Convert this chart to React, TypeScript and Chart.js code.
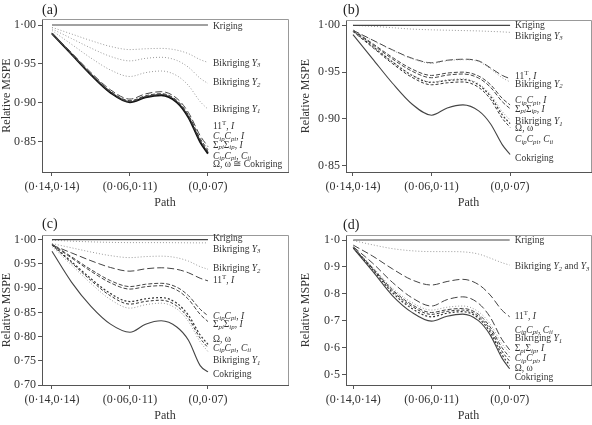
import React, { useEffect, useRef } from 'react';
import { Chart, registerables } from 'chart.js';
Chart.register(...registerables);

const SERIF = '"Liberation Serif", "Times New Roman", serif';
Chart.defaults.font.family = SERIF;

// ---------- shared axis data ----------
const pathX = [0, 0.25, 0.5, 0.75, 1, 1.2, 1.4, 1.6, 1.75, 1.9, 2];
const pathTickValues = [0, 1, 2];
const pathTickLabels = ['(0·14,0·14)', '(0·06,0·11)', '(0,0·07)'];

// ---------- panel (a) ----------
const aKriging = [1, 1, 1, 1, 1, 1, 1, 1, 1, 1, 1];
const aBikY3 = [0.997, 0.9885, 0.98, 0.9725, 0.9685, 0.9695, 0.97, 0.9678, 0.9632, 0.9556, 0.952];
const aBikY2 = [0.995, 0.9827, 0.9704, 0.9597, 0.954, 0.9572, 0.9586, 0.9546, 0.9458, 0.9317, 0.925];
const aBikY1 = [0.993, 0.9753, 0.9576, 0.9423, 0.934, 0.9389, 0.941, 0.9351, 0.9224, 0.9018, 0.892];
const a11T = [0.99, 0.9645, 0.939, 0.9169, 0.905, 0.9117, 0.9145, 0.906, 0.8877, 0.8581, 0.844];
const aCCI = [0.989, 0.9632, 0.9374, 0.915, 0.903, 0.9093, 0.912, 0.9034, 0.8846, 0.8544, 0.84];
const aSigma = [0.989, 0.9629, 0.9368, 0.9142, 0.902, 0.9083, 0.911, 0.9022, 0.8833, 0.8526, 0.838];
const aCCC = [0.989, 0.9627, 0.9365, 0.9138, 0.9015, 0.9078, 0.9105, 0.9016, 0.8822, 0.8509, 0.836];
const aOmegaCok = [0.989, 0.9626, 0.9362, 0.9133, 0.901, 0.9073, 0.91, 0.901, 0.8815, 0.85, 0.835];
const aYTicks = [0.85, 0.9, 0.95, 1.0];
const aLabels = ['Kriging', 'Bikriging *Y*_{3}', 'Bikriging *Y*_{2}', 'Bikriging *Y*_{1}', '11^{T}, *I*',
  '*C*_{ip}*C*_{pi}, *I*', 'Σ_{pi}Σ_{ip}, *I*', '*C*_{ip}*C*_{pi}, *C*_{ii}', 'Ω, ω ≅ Cokriging'];
const aLabelY = [0.998, 0.951, 0.926, 0.892, 0.87, 0.857, 0.846, 0.832, 0.8205];

// ---------- panel (b) ----------
const bKriging = [1, 1, 1, 1, 1, 1, 1, 1, 1, 1, 1];
const bBikY3 = [1.0, 0.999, 0.9975, 0.996, 0.9952, 0.9948, 0.9944, 0.994, 0.9935, 0.993, 0.9925];
const b11T = [0.9947, 0.9843, 0.9739, 0.9649, 0.96, 0.9627, 0.9638, 0.962, 0.9545, 0.9465, 0.943];
const bBikY2 = [0.9945, 0.9838, 0.9734, 0.9644, 0.9595, 0.9622, 0.9633, 0.9612, 0.9535, 0.944, 0.9395];
const bCCI = [0.995, 0.9805, 0.9659, 0.9533, 0.9465, 0.949, 0.95, 0.9458, 0.9367, 0.922, 0.915];
const bSigma = [0.9945, 0.9794, 0.9642, 0.9511, 0.944, 0.9468, 0.948, 0.9436, 0.9339, 0.9184, 0.911];
const bBikY1 = [0.994, 0.9777, 0.9613, 0.9471, 0.9395, 0.9418, 0.9428, 0.9375, 0.9262, 0.9078, 0.899];
const bOmega = [0.994, 0.9775, 0.961, 0.9467, 0.939, 0.9411, 0.942, 0.9364, 0.9241, 0.9044, 0.895];
const bCCC = [0.9935, 0.9764, 0.9593, 0.9445, 0.9365, 0.9386, 0.9395, 0.9337, 0.9211, 0.9007, 0.891];
const bCok = [0.99, 0.9642, 0.9384, 0.916, 0.904, 0.9117, 0.915, 0.9086, 0.8949, 0.8726, 0.862];
const bYTicks = [0.85, 0.9, 0.95, 1.0];
const bLabels = ['Kriging', 'Bikriging *Y*_{3}', '11^{T}, *I*', 'Bikriging *Y*_{2}', '*C*_{ip}*C*_{pi}, *I*',
  'Σ_{pi}Σ_{ip}, *I*', 'Bikriging *Y*_{1}', 'Ω, ω', '*C*_{ip}*C*_{pi}, *C*_{ii}', 'Cokriging'];
const bLabelY = [0.9996, 0.9886, 0.9458, 0.937, 0.9194, 0.9106, 0.897, 0.89, 0.8775, 0.8575];

// ---------- panel (c) ----------
const cKriging = [1, 1, 1, 1, 1, 1, 1, 1, 1, 1, 1];
const cBikY3 = [0.999, 0.997, 0.9955, 0.9945, 0.994, 0.994, 0.994, 0.9938, 0.9936, 0.9935, 0.9935];
const cBikY2 = [0.992, 0.9833, 0.9746, 0.9671, 0.963, 0.9651, 0.966, 0.9628, 0.9557, 0.9444, 0.939];
const c11T = [0.989, 0.9728, 0.9566, 0.9426, 0.935, 0.9399, 0.942, 0.9388, 0.9317, 0.9204, 0.915];
const cCCI = [0.991, 0.9647, 0.9383, 0.9155, 0.9032, 0.908, 0.91, 0.902, 0.8845, 0.8564, 0.843];
const cSigma = [0.99, 0.9624, 0.9348, 0.9109, 0.898, 0.9029, 0.905, 0.8961, 0.8769, 0.8458, 0.831];
const cOmega = [0.99, 0.9547, 0.9194, 0.8888, 0.8723, 0.878, 0.8805, 0.8689, 0.8438, 0.8033, 0.784];
const cCCC = [0.989, 0.9524, 0.9158, 0.8841, 0.867, 0.8726, 0.875, 0.8632, 0.8378, 0.7966, 0.777];
const cBikY1 = [0.986, 0.9478, 0.9096, 0.8765, 0.8587, 0.8657, 0.869, 0.857, 0.8311, 0.7892, 0.769];
const cCok = [0.976, 0.9125, 0.8624, 0.8257, 0.809, 0.8255, 0.8325, 0.8198, 0.7924, 0.74, 0.727];
const cYTicks = [0.7, 0.75, 0.8, 0.85, 0.9, 0.95, 1.0];
const cLabels = ['Kriging', 'Bikriging *Y*_{3}', 'Bikriging *Y*_{2}', '11^{T}, *I*', '*C*_{ip}*C*_{pi}, *I*',
  'Σ_{pi}Σ_{ip}, *I*', 'Ω, ω', '*C*_{ip}*C*_{pi}, *C*_{ii}', 'Bikriging *Y*_{1}', 'Cokriging'];
const cLabelY = [1.002, 0.98, 0.94, 0.915, 0.842, 0.824, 0.793, 0.776, 0.75, 0.721];

// ---------- panel (d) ----------
const dKriging = [1, 1, 1, 1, 1, 1, 1, 1, 1, 1, 1];
const dBikY23 = [0.998, 0.982, 0.968, 0.96, 0.957, 0.957, 0.956, 0.948, 0.933, 0.916, 0.907];
const d11T = [0.981, 0.94, 0.893, 0.852, 0.833, 0.846, 0.854, 0.835, 0.796, 0.74, 0.715];
const dCCC = [0.975, 0.9134, 0.843, 0.7858, 0.755, 0.7788, 0.789, 0.7654, 0.7141, 0.6314, 0.592];
const dBikY1 = [0.973, 0.8984, 0.8216, 0.768, 0.74, 0.7505, 0.755, 0.734, 0.6885, 0.615, 0.58];
const dSigma = [0.973, 0.8956, 0.8157, 0.76, 0.731, 0.7415, 0.746, 0.7243, 0.6772, 0.6012, 0.565];
const dCCI = [0.972, 0.8926, 0.8108, 0.7538, 0.724, 0.7352, 0.74, 0.7172, 0.6678, 0.588, 0.55];
const dOmega = [0.972, 0.8898, 0.805, 0.7458, 0.715, 0.7283, 0.734, 0.7101, 0.6584, 0.5748, 0.535];
const dCok = [0.97, 0.8833, 0.7939, 0.7315, 0.699, 0.7172, 0.725, 0.7006, 0.6479, 0.5626, 0.522];
const dYTicks = [0.5, 0.6, 0.7, 0.8, 0.9, 1.0];
const dLabels = ['Kriging', 'Bikriging *Y*_{2} and *Y*_{3}', '11^{T}, *I*', '*C*_{ip}*C*_{pi}, *C*_{ii}',
  'Bikriging *Y*_{1}', 'Σ_{pi}Σ_{ip}, *I*', '*C*_{ip}*C*_{pi}, *I*', 'Ω, ω', 'Cokriging'];
const dLabelY = [1.0, 0.9, 0.7165, 0.6645, 0.6335, 0.5964, 0.5593, 0.5246, 0.4887];

// ---------- styles ----------
type Kind = 'krig' | 'bik' | 'long' | 'mid' | 'short' | 'tiny' | 'cok' | 'bold';
const STY: Record<Kind, { color: string; width: number; dash: number[] }> = {
  krig: { color: '#444', width: 1.2, dash: [] },
  bik: { color: '#999', width: 1, dash: [1, 2] },
  long: { color: '#444', width: 1, dash: [7, 3] },
  mid: { color: '#444', width: 1, dash: [4, 2] },
  short: { color: '#333', width: 1, dash: [3, 2] },
  tiny: { color: '#333', width: 1.2, dash: [2, 2] },
  cok: { color: '#444', width: 1.1, dash: [] },
  bold: { color: '#111', width: 2, dash: [] },
};

type Panel = {
  tag: string; w: number; h: number; left: number; top: number;
  area: { l: number; t: number; r: number; b: number };
  xMin: number; xMax: number; yMin: number; yMax: number; yTicks: number[]; dec: number;
  series: { v: number[]; k: Kind }[]; labels: string[]; labelY: number[];
  tagX: number; tagY: number; titlePad: number;
};

const panels: Panel[] = [
  {
    tag: '(a)', w: 296, h: 212, left: 0, top: 0, area: { l: 42, t: 19, r: 288, b: 172 },
    xMin: -0.128, xMax: 3.026, yMin: 0.8115, yMax: 1.0077, yTicks: aYTicks, dec: 2,
    series: [
      { v: aKriging, k: 'krig' }, { v: aBikY3, k: 'bik' }, { v: aBikY2, k: 'bik' }, { v: aBikY1, k: 'bik' },
      { v: a11T, k: 'long' }, { v: aCCI, k: 'mid' }, { v: aSigma, k: 'mid' }, { v: aCCC, k: 'short' },
      { v: aOmegaCok, k: 'bold' },
    ],
    labels: aLabels, labelY: aLabelY, tagX: 42, tagY: 10, titlePad: 0,
  },
  {
    tag: '(b)', w: 296, h: 212, left: 296, top: 0, area: { l: 50, t: 20, r: 295, b: 172 },
    xMin: -0.089, xMax: 3.03, yMin: 0.8433, yMax: 1.0057, yTicks: bYTicks, dec: 2,
    series: [
      { v: bKriging, k: 'krig' }, { v: bBikY3, k: 'bik' }, { v: bBikY2, k: 'bik' }, { v: b11T, k: 'long' },
      { v: bCCI, k: 'mid' }, { v: bSigma, k: 'mid' }, { v: bBikY1, k: 'bik' }, { v: bOmega, k: 'tiny' },
      { v: bCCC, k: 'short' }, { v: bCok, k: 'cok' },
    ],
    labels: bLabels, labelY: bLabelY, tagX: 47, tagY: 10, titlePad: 3,
  },
  {
    tag: '(c)', w: 296, h: 213, left: 0, top: 212, area: { l: 42, t: 23, r: 288, b: 173 },
    xMin: -0.128, xMax: 3.026, yMin: 0.7, yMax: 1.0097, yTicks: cYTicks, dec: 2,
    series: [
      { v: cKriging, k: 'krig' }, { v: cBikY3, k: 'bik' }, { v: cBikY2, k: 'bik' }, { v: c11T, k: 'long' },
      { v: cCCI, k: 'mid' }, { v: cSigma, k: 'mid' }, { v: cOmega, k: 'tiny' }, { v: cCCC, k: 'short' },
      { v: cBikY1, k: 'bik' }, { v: cCok, k: 'cok' },
    ],
    labels: cLabels, labelY: cLabelY, tagX: 42, tagY: 12, titlePad: 0,
  },
  {
    tag: '(d)', w: 296, h: 213, left: 296, top: 212, area: { l: 50, t: 23, r: 295, b: 173 },
    xMin: -0.093, xMax: 3.04, yMin: 0.4618, yMax: 1.0186, yTicks: dYTicks, dec: 1,
    series: [
      { v: dKriging, k: 'krig' }, { v: dBikY23, k: 'bik' }, { v: d11T, k: 'long' }, { v: dCCC, k: 'long' },
      { v: dBikY1, k: 'bik' }, { v: dSigma, k: 'mid' }, { v: dCCI, k: 'short' }, { v: dOmega, k: 'tiny' },
      { v: dCok, k: 'cok' },
    ],
    labels: dLabels, labelY: dLabelY, tagX: 47, tagY: 13, titlePad: 3,
  },
];

type Seg = { t: string; it: boolean; pos: 'n' | 'sub' | 'sup' };
function parseRich(s: string): Seg[] {
  const out: Seg[] = [];
  let it = false;
  let pos: 'n' | 'sub' | 'sup' = 'n';
  let buf = '';
  const flush = () => {
    if (buf) out.push({ t: buf, it: it || pos === 'sub', pos });
    buf = '';
  };
  for (let i = 0; i < s.length; i++) {
    const c = s[i];
    if (c === '*') { flush(); it = !it; }
    else if ((c === '_' || c === '^') && s[i + 1] === '{') { flush(); pos = c === '_' ? 'sub' : 'sup'; i++; }
    else if (c === '}' && pos !== 'n') { flush(); pos = 'n'; }
    else buf += c;
  }
  flush();
  return out;
}

function drawRich(ctx: CanvasRenderingContext2D, text: string, x: number, y: number, size: number) {
  let cx = x;
  for (const seg of parseRich(text)) {
    const fs = seg.pos === 'n' ? size : size * 0.72;
    ctx.font = `${seg.it ? 'italic ' : ''}${fs}px ${SERIF}`;
    const dy = seg.pos === 'sub' ? 2.3 : seg.pos === 'sup' ? -3.3 : 0;
    ctx.fillText(seg.t, cx, y + dy);
    cx += ctx.measureText(seg.t).width;
  }
}

const fmtTick = (v: number, dec: number) => v.toFixed(dec).replace('.', '·');

function makeConfig(p: Panel): any {
  const annot = {
    id: 'annot' + p.tag,
    afterDraw(chart: any) {
      const ctx = chart.ctx as CanvasRenderingContext2D;
      const ca = chart.chartArea;
      const xs = chart.scales.x;
      const ys = chart.scales.y;
      ctx.save();
      ctx.strokeStyle = '#999';
      ctx.lineWidth = 1;
      ctx.beginPath();
      ctx.moveTo(ca.left, ca.top + 0.5);
      ctx.lineTo(ca.right + 0.5, ca.top + 0.5);
      ctx.lineTo(ca.right + 0.5, ca.bottom);
      ctx.stroke();
      ctx.fillStyle = '#222';
      ctx.textBaseline = 'middle';
      ctx.textAlign = 'left';
      ctx.font = `14px ${SERIF}`;
      ctx.fillText(p.tag, p.tagX, p.tagY);
      ctx.fillStyle = '#333';
      const lx = xs.getPixelForValue(2) + 5;
      p.labels.forEach((lab, i) => {
        drawRich(ctx, lab, lx, ys.getPixelForValue(p.labelY[i]), 9.5);
      });
      ctx.restore();
    },
  };
  return {
    type: 'line',
    data: {
      datasets: p.series.map((s) => ({
        data: pathX.map((x, i) => ({ x, y: s.v[i] })),
        borderColor: STY[s.k].color,
        borderWidth: STY[s.k].width,
        borderDash: STY[s.k].dash,
        pointRadius: 0,
        fill: false,
        cubicInterpolationMode: 'monotone',
      })),
    },
    options: {
      animation: false,
      responsive: false,
      devicePixelRatio: 1,
      events: [],
      layout: { padding: { left: 0, top: p.area.t, right: p.w - p.area.r, bottom: 0 } },
      plugins: { legend: { display: false }, tooltip: { enabled: false }, title: { display: false } },
      scales: {
        x: {
          type: 'linear', min: p.xMin, max: p.xMax,
          afterFit: (s: any) => { s.height = p.h - p.area.b; },
          afterBuildTicks: (s: any) => { s.ticks = pathTickValues.map((v) => ({ value: v })); },
          ticks: {
            callback: (v: number) => { const i = pathTickValues.indexOf(v); return i >= 0 ? pathTickLabels[i] : ''; },
            font: { size: 12, family: SERIF }, color: '#333', padding: 4, maxRotation: 0, autoSkip: false,
          },
          grid: { drawOnChartArea: false, drawTicks: true, tickLength: 4, color: '#555' },
          border: { display: true, color: '#555' },
          title: { display: true, text: 'Path', font: { size: 12, family: SERIF }, color: '#333', padding: { top: 0, bottom: 2 } },
        },
        y: {
          type: 'linear', min: p.yMin, max: p.yMax,
          afterFit: (s: any) => { s.width = p.area.l; },
          afterBuildTicks: (s: any) => { s.ticks = p.yTicks.map((v) => ({ value: v })); },
          ticks: {
            callback: (v: number) => fmtTick(v, p.dec),
            font: { size: 12, family: SERIF }, color: '#333', padding: 2, autoSkip: false,
          },
          grid: { drawOnChartArea: false, drawTicks: true, tickLength: 4, color: '#555' },
          border: { display: true, color: '#555' },
          title: { display: true, text: 'Relative MSPE', font: { size: 12, family: SERIF }, color: '#333', padding: { top: p.titlePad, bottom: 0 } },
        },
      },
    },
    plugins: [annot],
  };
}

function PanelChart({ p }: { p: Panel }) {
  const ref = useRef<HTMLCanvasElement>(null);
  useEffect(() => {
    if (!ref.current) return;
    const chart = new Chart(ref.current, makeConfig(p));
    return () => chart.destroy();
  }, [p]);
  return (
    <canvas
      ref={ref}
      width={p.w}
      height={p.h}
      style={{ position: 'absolute', left: p.left, top: p.top, width: p.w, height: p.h, display: 'block' }}
    />
  );
}

export default function App() {
  return (
    <div style={{ position: 'absolute', left: 0, top: 0, width: 592, height: 425, background: '#fff' }}>
      {panels.map((p) => (
        <PanelChart key={p.tag} p={p} />
      ))}
    </div>
  );
}
